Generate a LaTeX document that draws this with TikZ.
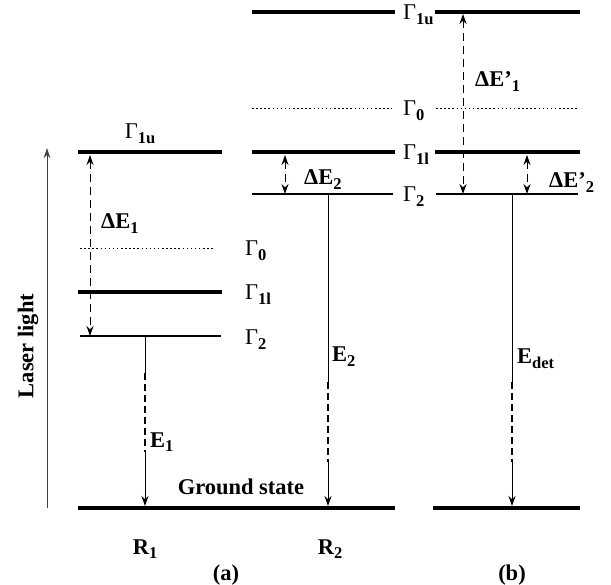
\documentclass[tikz,border=0pt]{standalone}
\usepackage{fontspec}
\setmainfont{Liberation Serif}
\usetikzlibrary{arrows.meta}
\newcommand\lsub[1]{\raisebox{-0.45ex}{\fontsize{16.5}{16.5}\selectfont\bfseries #1}}
\begin{document}
\begin{tikzpicture}[x=1pt,y=-1pt,
  thicklevel/.style={line width=4.6pt},
  thinlevel/.style={line width=1.1pt},
  dotlevel/.style={line width=0.8pt, dash pattern=on 1.5pt off 2.6pt},
  lbl/.style={font=\fontsize{22.5}{22.5}\selectfont, inner sep=0pt},
  blbl/.style={font=\fontsize{22.5}{22.5}\selectfont\bfseries, inner sep=0pt},
  tipd/.style={-{Stealth[length=10pt,width=7pt]}},
  tipdd/.style={{Stealth[length=10pt,width=7pt]}-{Stealth[length=10pt,width=7pt]}},
  gapdash/.style={line width=0.9pt, dash pattern=on 8pt off 5pt},
  emdash/.style={line width=1.3pt, dash pattern=on 7pt off 4pt},
  solidline/.style={line width=1pt}
]
\useasboundingbox (0,0) rectangle (611,585);

% ---------- panel (a), R1 ----------
\coordinate (a1uL) at (78,152);  \coordinate (a1uR) at (222,152);
\coordinate (a0L)  at (80,248);  \coordinate (a0R)  at (214,248);
\coordinate (a1lL) at (78,292);  \coordinate (a1lR) at (222,292);
\coordinate (a2L)  at (80,336);  \coordinate (a2R)  at (221,336);
\draw[thicklevel] (a1uL) -- (a1uR);
\draw[dotlevel]   (a0L) -- (a0R);
\draw[thicklevel] (a1lL) -- (a1lR);
\draw[thinlevel]  (a2L) -- (a2R);

% ---------- panel (a), R2 ----------
\coordinate (b1uL) at (252,12);  \coordinate (b1uR) at (395,12);
\coordinate (b0L)  at (252,108); \coordinate (b0R)  at (392,108);
\coordinate (b1lL) at (252,152); \coordinate (b1lR) at (395,152);
\coordinate (b2L)  at (252,194); \coordinate (b2R)  at (393,194);
\draw[thicklevel] (b1uL) -- (b1uR);
\draw[dotlevel]   (b0L) -- (b0R);
\draw[thicklevel] (b1lL) -- (b1lR);
\draw[thinlevel]  (b2L) -- (b2R);

% ---------- panel (b) ----------
\coordinate (c1uL) at (435,12);  \coordinate (c1uR) at (580,12);
\coordinate (c0L)  at (436,108); \coordinate (c0R)  at (578,108);
\coordinate (c1lL) at (435,152); \coordinate (c1lR) at (580,152);
\coordinate (c2L)  at (436,194); \coordinate (c2R)  at (578,194);
\draw[thicklevel] (c1uL) -- (c1uR);
\draw[dotlevel]   (c0L) -- (c0R);
\draw[thicklevel] (c1lL) -- (c1lR);
\draw[thinlevel]  (c2L) -- (c2R);

% ---------- ground states ----------
\coordinate (gaL) at (78,508);  \coordinate (gaR) at (395,508);
\coordinate (gbL) at (433,508); \coordinate (gbR) at (580,508);
\draw[thicklevel] (gaL) -- (gaR);
\draw[thicklevel] (gbL) -- (gbR);

% ---------- level labels ----------
\node[lbl, anchor=base] (l1ua) at (140,139) {Γ\lsub{1u}};
\node[lbl, anchor=base west] (l0a)  at (245,256) {Γ\lsub{0}};
\node[lbl, anchor=base west] (l1la) at (245,300) {Γ\lsub{1l}};
\node[lbl, anchor=base west] (l2a)  at (245,345) {Γ\lsub{2}};
\node[lbl, anchor=base west] (l1ub) at (403,20)  {Γ\lsub{1u}};
\node[lbl, anchor=base west] (l0b)  at (403,116) {Γ\lsub{0}};
\node[lbl, anchor=base west] (l1lb) at (403,160) {Γ\lsub{1l}};
\node[lbl, anchor=base west] (l2b)  at (403,202) {Γ\lsub{2}};

% ---------- laser light ----------
\coordinate (lasB) at (47,508); \coordinate (lasT) at (47,148);
\draw[line width=0.9pt, black!75, -{Stealth[length=10pt,width=6.5pt]}] (lasB) -- (lasT);
\node[blbl, rotate=90] (laser) at (28,346) {Laser light};

% ---------- Delta E arrows ----------
\coordinate (d1T) at (90,155);  \coordinate (d1B) at (90,336);
\draw[gapdash, tipdd] (d1T) -- (d1B);
\node[blbl, anchor=base west] (dE1) at (101,229) {ΔE\lsub{1}};

\coordinate (d2T) at (285,155); \coordinate (d2B) at (285,194);
\draw[gapdash, tipdd] (d2T) -- (d2B);
\node[blbl, anchor=base west] (dE2) at (304,185) {ΔE\lsub{2}};

\coordinate (d3T) at (463,14);  \coordinate (d3B) at (463,194);
\draw[gapdash, tipdd] (d3T) -- (d3B);
\node[blbl, anchor=base west] (dE1p) at (475,87) {ΔE’\lsub{1}};

\coordinate (d4T) at (527,155); \coordinate (d4B) at (527,194);
\draw[gapdash, tipdd] (d4T) -- (d4B);
\node[blbl, anchor=base west] (dE2p) at (549,188) {ΔE’\lsub{2}};

% ---------- emission arrows ----------
\coordinate (e1a) at (145,336); \coordinate (e1b) at (145,373);
\coordinate (e1c) at (145,452); \coordinate (e1d) at (145,506);
\draw[solidline] (e1a) -- (e1b);
\draw[emdash] (e1b) -- (e1c);
\draw[solidline, tipd] (e1c) -- (e1d);
\node[blbl, anchor=base west] (E1) at (150,447) {E\lsub{1}};

\coordinate (e2a) at (328,194); \coordinate (e2b) at (328,382);
\coordinate (e2c) at (328,462); \coordinate (e2d) at (328,506);
\draw[solidline] (e2a) -- (e2b);
\draw[emdash] (e2b) -- (e2c);
\draw[solidline, tipd] (e2c) -- (e2d);
\node[blbl, anchor=base west] (E2) at (332,362) {E\lsub{2}};

\coordinate (e3a) at (512,194); \coordinate (e3b) at (512,382);
\coordinate (e3c) at (512,462); \coordinate (e3d) at (512,506);
\draw[solidline] (e3a) -- (e3b);
\draw[emdash] (e3b) -- (e3c);
\draw[solidline, tipd] (e3c) -- (e3d);
\node[blbl, anchor=base west] (Edet) at (517,364) {E\lsub{det}};

% ---------- other labels ----------
\node[blbl, anchor=base] (gs) at (241,494) {Ground state};
\node[blbl, anchor=base] (R1) at (145,554) {R\lsub{1}};
\node[blbl, anchor=base] (R2) at (330,554) {R\lsub{2}};
\node[blbl, anchor=base] (pa) at (226,580) {(a)};
\node[blbl, anchor=base] (pb) at (512,580) {(b)};
\end{tikzpicture}
\end{document}
